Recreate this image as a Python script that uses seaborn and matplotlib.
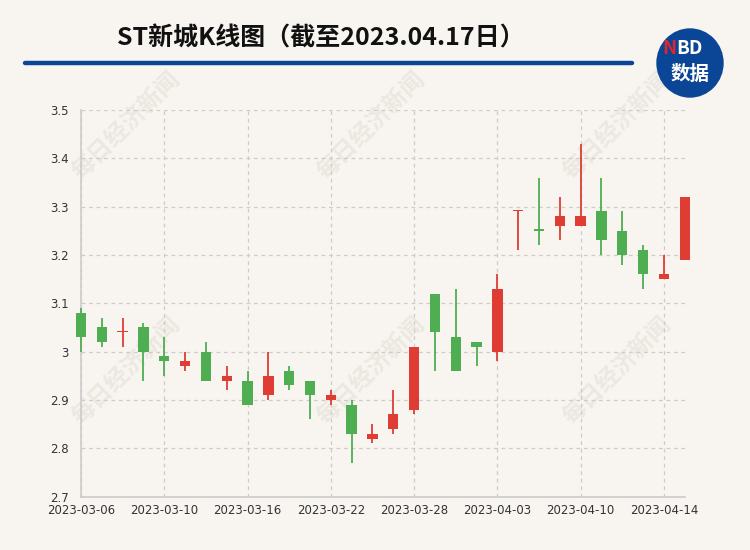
import numpy as np
import pandas as pd
import matplotlib
matplotlib.use("Agg")
import matplotlib.pyplot as plt
import seaborn as sns
from matplotlib.patches import Ellipse

# ==========================================
# Data
# ==========================================
dates = [
    "2023-03-06", "2023-03-07", "2023-03-08", "2023-03-09", "2023-03-10",
    "2023-03-13", "2023-03-14", "2023-03-15", "2023-03-16", "2023-03-17",
    "2023-03-20", "2023-03-21", "2023-03-22", "2023-03-23", "2023-03-24",
    "2023-03-27", "2023-03-28", "2023-03-29", "2023-03-30", "2023-03-31",
    "2023-04-03", "2023-04-04", "2023-04-06", "2023-04-07", "2023-04-10",
    "2023-04-11", "2023-04-12", "2023-04-13", "2023-04-14", "2023-04-17",
]
opens = [3.08, 3.05, 3.04, 3.05, 2.99, 2.97, 3.00, 2.94, 2.94, 2.91,
         2.96, 2.94, 2.90, 2.89, 2.82, 2.84, 2.88, 3.12, 3.03, 3.02,
         3.00, 3.29, 3.25, 3.26, 3.26, 3.29, 3.25, 3.21, 3.15, 3.19]
closes = [3.03, 3.02, 3.04, 3.00, 2.98, 2.98, 2.94, 2.95, 2.89, 2.95,
          2.93, 2.91, 2.91, 2.83, 2.83, 2.87, 3.01, 3.04, 2.96, 3.01,
          3.13, 3.29, 3.25, 3.28, 3.28, 3.23, 3.20, 3.16, 3.16, 3.32]
highs = [3.09, 3.07, 3.07, 3.06, 3.03, 3.00, 3.02, 2.97, 2.96, 3.00,
         2.97, 2.94, 2.92, 2.90, 2.85, 2.92, 3.01, 3.12, 3.13, 3.02,
         3.16, 3.29, 3.36, 3.32, 3.43, 3.36, 3.29, 3.22, 3.20, 3.32]
lows = [3.00, 3.01, 3.01, 2.94, 2.95, 2.96, 2.94, 2.92, 2.89, 2.90,
        2.92, 2.86, 2.89, 2.77, 2.81, 2.83, 2.87, 2.96, 2.96, 2.97,
        2.98, 3.21, 3.22, 3.23, 3.26, 3.20, 3.18, 3.13, 3.15, 3.19]
yticks = [2.7, 2.8, 2.9, 3.0, 3.1, 3.2, 3.3, 3.4, 3.5]
xtick_idx = [0, 4, 8, 12, 16, 20, 24, 28]

TITLE = "ST新城K线图（截至2023.04.17日）"
WATERMARK = "每日经济新闻"

RED = "#DF3D34"
GREEN = "#4FAE52"
BG = "#F8F5F0"
NAVY = "#0A4596"

# ==========================================
# Frame
# ==========================================
df = pd.DataFrame({"date": dates, "open": opens, "close": closes,
                   "high": highs, "low": lows})
df["x"] = np.arange(len(df))
# red = up, green = down (doji coloured against the previous close)
prev_close = df["close"].shift(1).fillna(df["open"])
up = (df["close"] > df["open"]) | ((df["close"] == df["open"]) & (df["close"] >= prev_close))
df["color"] = np.where(up, RED, GREEN)
df["body_lo"] = df[["open", "close"]].min(axis=1)
df["body_h"] = (df["close"] - df["open"]).abs().clip(lower=0.003)

sns.set_theme(style="white")
plt.rcParams["font.family"] = ["Noto Sans CJK SC", "DejaVu Sans"]

fig = plt.figure(figsize=(7.5, 5.5), dpi=100, facecolor=BG)
ax = fig.add_axes([0.108, 0.097, 0.805, 0.703])
ax.set_facecolor(BG)
ax.set_axisbelow(True)

# watermark, kept underneath the grid and candles
for wx in [126, 371, 617]:
    for wy in [125, 370]:
        ax.text(wx / 750, 1 - wy / 550, WATERMARK, rotation=45,
                transform=fig.transFigure, ha="center", va="center",
                fontsize=17, fontweight="bold", color="#EBE7E1",
                zorder=0.2, clip_on=False)

# ==========================================
# Candles
# ==========================================
ax.vlines(df["x"], df["low"], df["high"], colors=df["color"],
          linewidth=1.3, zorder=3, clip_on=False)
ax.bar(df["x"], df["body_h"], bottom=df["body_lo"], width=0.5,
       color=df["color"], linewidth=0, zorder=4, clip_on=False)

# ==========================================
# Axes formatting
# ==========================================
ax.set_xlim(0, 29)
ax.set_ylim(2.7, 3.5)
ax.set_yticks(yticks)
ax.set_yticklabels([f"{v:g}" for v in yticks])
ax.set_xticks(xtick_idx)
ax.set_xticklabels([dates[i] for i in xtick_idx])
ax.tick_params(axis="both", length=0, labelsize=8.5, colors="#333333")
ax.tick_params(axis="y", pad=9)
ax.tick_params(axis="x", pad=5)
for lbl in ax.get_xticklabels() + ax.get_yticklabels():
    lbl.set_fontfamily(["DejaVu Sans"])

ax.grid(True, axis="both", linestyle=(0, (3, 3)), color="#CFCCC8", linewidth=0.9)
for side in ["top", "right"]:
    ax.spines[side].set_visible(False)
for side in ["left", "bottom"]:
    ax.spines[side].set_color("#CCCCCC")
    ax.spines[side].set_linewidth(1.2)

# ==========================================
# Header: title, rule line, logo
# ==========================================
fig.text(0.428, 1 - 38 / 550, TITLE, ha="center", va="center",
         fontsize=18, fontweight="bold", color="#111111")
fig.add_artist(plt.Line2D([25 / 750, 632 / 750], [1 - 63 / 550, 1 - 63 / 550],
                          color=NAVY, linewidth=3.2))
fig.add_artist(Ellipse((690 / 750, 1 - 63 / 550), 66 / 750, 68 / 550,
                       color=NAVY, transform=fig.transFigure))
fig.text(0.902, 1 - 49 / 550, "N", ha="right", va="center", fontsize=13.5,
         fontweight="bold", color="#E0262B")
fig.text(0.902, 1 - 49 / 550, "BD", ha="left", va="center", fontsize=13.5,
         fontweight="bold", color="white")
fig.text(690 / 750, 1 - 74 / 550, "数据", ha="center", va="center", fontsize=14,
         fontweight="bold", color="white")

fig.savefig("out.png", dpi=100, facecolor=BG)
